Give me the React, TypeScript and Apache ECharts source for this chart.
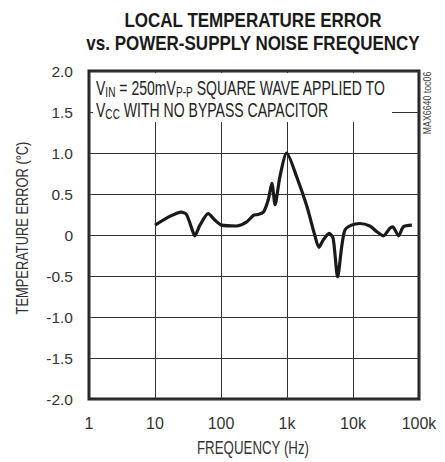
import React, { useEffect, useRef } from "react";
import * as echarts from "echarts";

const FONT = "'Liberation Sans', Arial, sans-serif";

const titleLines = ["LOCAL TEMPERATURE ERROR", "vs. POWER-SUPPLY NOISE FREQUENCY"];
const xAxisName = "FREQUENCY (Hz)";
const yAxisName = "TEMPERATURE ERROR (°C)";
const xTickLabels: Record<number, string> = { 1: "1", 10: "10", 100: "100", 1000: "1k", 10000: "10k", 100000: "100k" };
const frequencies = [
  10, 17, 25, 30, 36, 40, 48, 64, 81, 102, 172, 245, 310, 360, 440, 520, 590, 660, 780, 990,
  1400, 2000, 2650, 3050, 3550, 4350, 5000, 5850, 6750, 7550, 9500, 12700, 18000, 23000, 29000,
  36000, 40000, 49000, 58000, 78000,
];
const errors = [
  0.12, 0.23, 0.28, 0.25, 0.08, -0.01, 0.12, 0.26, 0.18, 0.12, 0.11, 0.16, 0.24, 0.25, 0.28, 0.43,
  0.63, 0.37, 0.71, 1.0, 0.71, 0.35, -0.01, -0.15, -0.06, 0.02, -0.04, -0.51, -0.14, 0.06, 0.12,
  0.14, 0.11, 0.04, -0.01, 0.08, 0.1, -0.01, 0.1, 0.12,
];

export default function App() {
  const ref = useRef<HTMLDivElement>(null);
  useEffect(() => {
    if (!ref.current) return;
    const chart = echarts.init(ref.current, null, { renderer: "svg" });
    const data = frequencies.map((f, i) => [f, errors[i]]);
    chart.setOption({
      animation: false,
      backgroundColor: "#fff",
      textStyle: { fontFamily: FONT },
      grid: { left: 89, top: 71, width: 330, height: 328, show: true, borderColor: "#222", borderWidth: 3, backgroundColor: "transparent" },
      xAxis: {
        type: "log",
        logBase: 10,
        min: 1,
        max: 100000,
        axisLine: { show: false },
        axisTick: { show: false },
        minorTick: { show: false },
        splitLine: { show: true, lineStyle: { color: "#333", width: 1 } },
        axisLabel: {
          fontFamily: FONT,
          fontSize: 16,
          color: "#333",
          margin: 16,
          formatter: (v: number) => xTickLabels[Math.round(v)] ?? "",
        },
      },
      yAxis: {
        type: "value",
        min: -2,
        max: 2,
        interval: 0.5,
        axisLine: { show: false },
        axisTick: { show: false },
        splitLine: { show: true, lineStyle: { color: "#333", width: 1 } },
        axisLabel: {
          fontFamily: FONT,
          fontSize: 15.5,
          color: "#333",
          margin: 16,
          formatter: (v: number) => (v === 0 ? "0" : v.toFixed(1)),
        },
      },
      series: [
        {
          type: "line",
          data,
          smooth: 0.25,
          showSymbol: false,
          lineStyle: { color: "#1a1a1a", width: 3.2 },
          z: 5,
        },
      ],
      graphic: [
        {
          type: "text",
          x: 253,
          y: 8,
          scaleX: 0.81,
          style: {
            text: titleLines.join("\n"),
            fontFamily: FONT,
            fontWeight: "bold",
            fontSize: 21,
            lineHeight: 23,
            fill: "#1a1a1a",
            align: "center",
            verticalAlign: "top",
          },
        },
        {
          type: "rect",
          shape: { x: 93, y: 73, width: 299, height: 49 },
          style: { fill: "#fff" },
          z: 10,
        },
        {
          type: "text",
          x: 96,
          y: 78,
          scaleX: 0.72,
          z: 11,
          style: {
            text: "V{sub|IN} = 250mV{sub|P-P} SQUARE WAVE APPLIED TO\nV{sub|CC} WITH NO BYPASS CAPACITOR",
            fontFamily: FONT,
            fontSize: 19.5,
            lineHeight: 21.5,
            fill: "#222",
            verticalAlign: "top",
            rich: {
              sub: { fontFamily: FONT, fontSize: 14, fill: "#222", verticalAlign: "bottom", lineHeight: 16 },
            },
          },
        },
        {
          type: "text",
          x: 427,
          y: 103,
          rotation: Math.PI / 2,
          scaleX: 0.88,
          z: 11,
          style: {
            text: "MAX6640 toc06",
            fontFamily: FONT,
            fontSize: 10,
            fill: "#444",
            align: "center",
            verticalAlign: "middle",
          },
        },
        {
          type: "text",
          x: 253,
          y: 448,
          scaleX: 0.76,
          style: {
            text: xAxisName,
            fontFamily: FONT,
            fontSize: 17.5,
            fill: "#333",
            align: "center",
            verticalAlign: "middle",
          },
        },
        {
          type: "text",
          x: 22,
          y: 228,
          rotation: Math.PI / 2,
          scaleX: 0.78,
          style: {
            text: yAxisName,
            fontFamily: FONT,
            fontSize: 16.5,
            fill: "#333",
            align: "center",
            verticalAlign: "middle",
          },
        },
      ],
    });
    return () => chart.dispose();
  }, []);
  return <div ref={ref} style={{ position: "fixed", left: 0, top: 0, width: 445, height: 462 }} />;
}
